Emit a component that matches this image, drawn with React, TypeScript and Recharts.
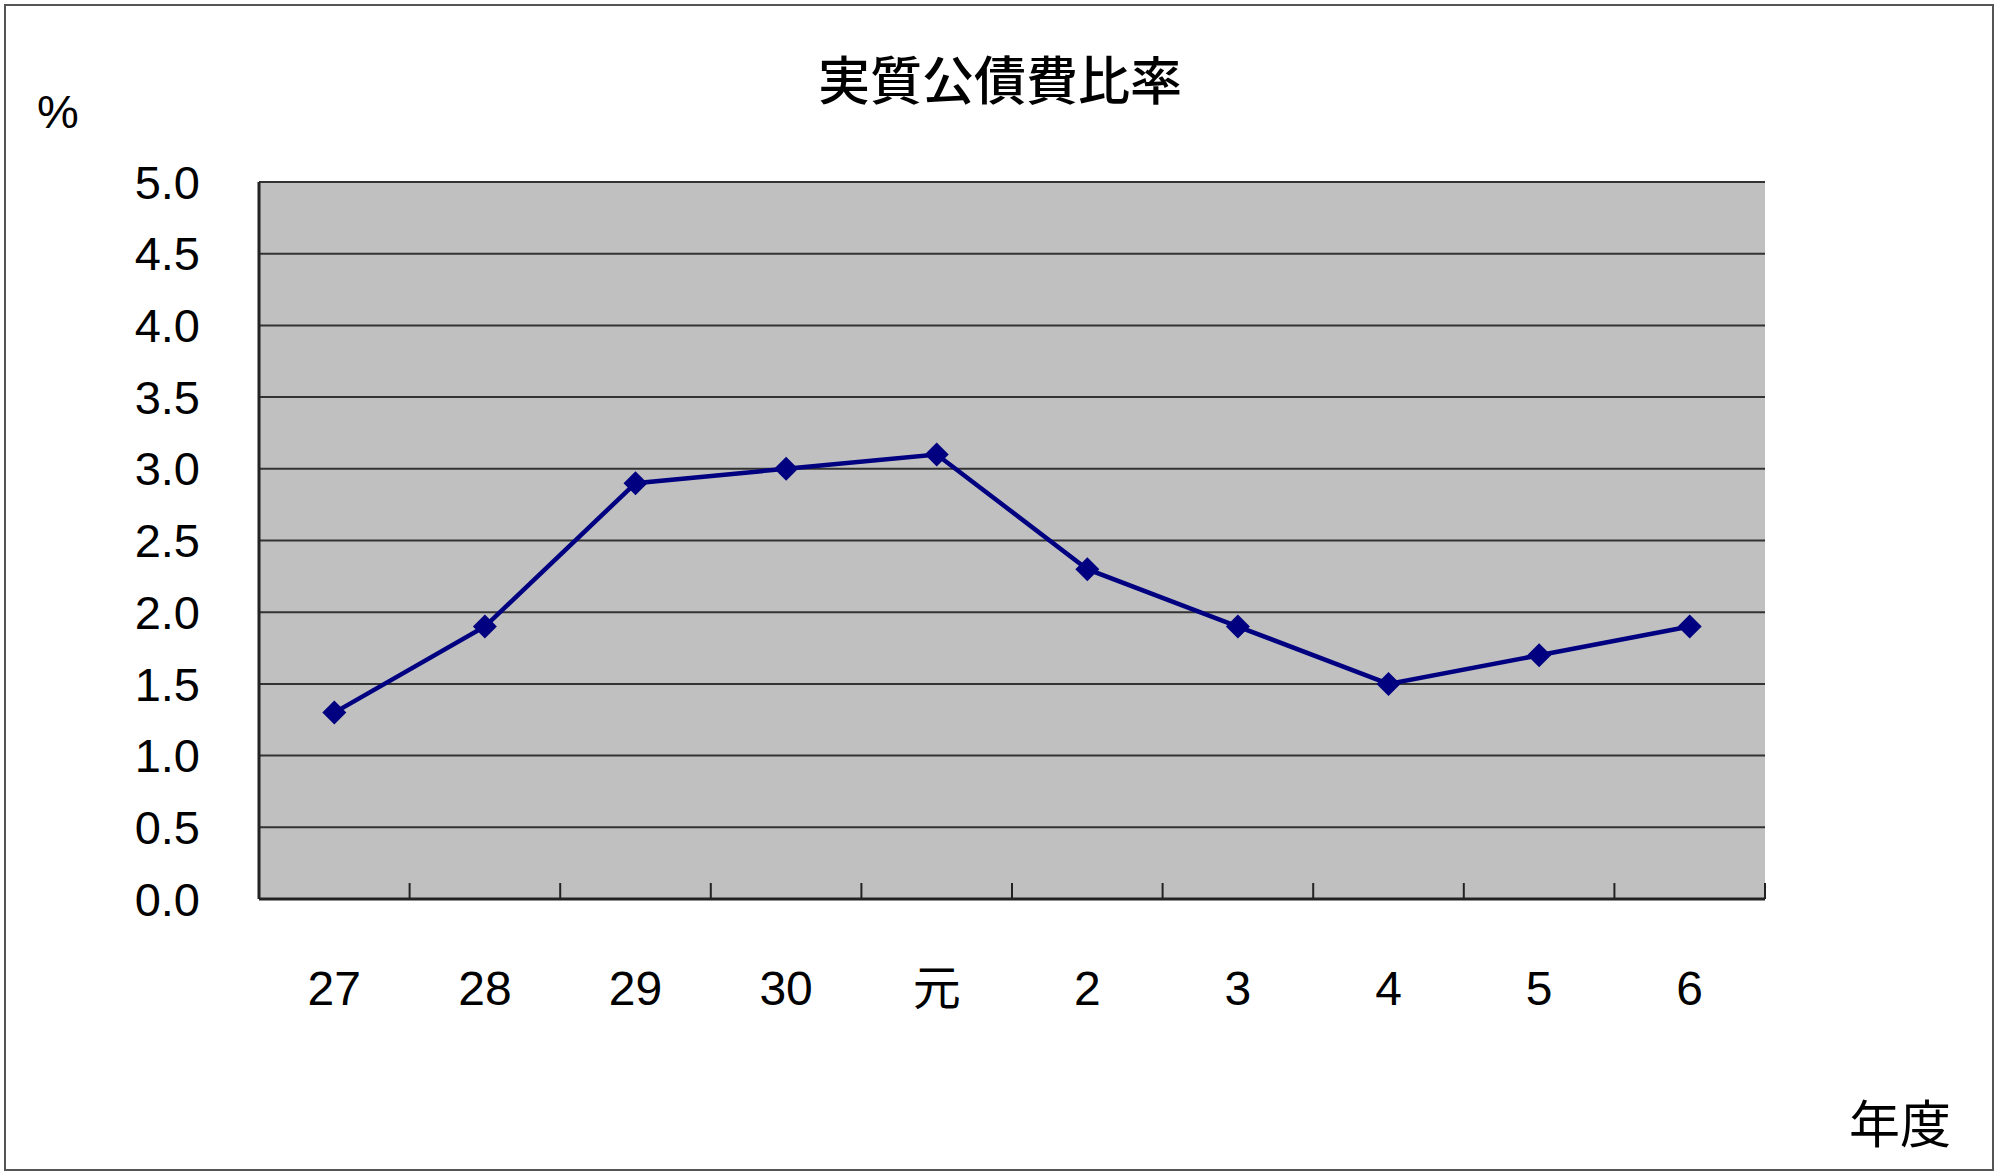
import React from "react";
import { LineChart, Line, XAxis, YAxis, CartesianGrid } from "recharts";

// fiscal years (Heisei 27..30, Reiwa 元..6)
const years = ["27", "28", "29", "30", "元", "2", "3", "4", "5", "6"];
const ratios = [1.3, 1.9, 2.9, 3.0, 3.1, 2.3, 1.9, 1.5, 1.7, 1.9];
const yTicks = [0, 0.5, 1, 1.5, 2, 2.5, 3, 3.5, 4, 4.5, 5];

const title = "実質公債費比率";
const unitLabel = "%";
const xLabel = "年度";

const W = 2000;
const H = 1176;
const PLOT = { left: 259, top: 182, right: 1765, bottom: 899 };
const Y_AXIS_W = 159;
const X_AXIS_H = 150;
const halfStep = (PLOT.right - PLOT.left) / years.length / 2;

const LATIN = '"Liberation Sans", Arial, sans-serif';
const CJK = '"Liberation Sans", "Noto Sans CJK JP", sans-serif';

const data = years.map((year, i) => ({ year, value: ratios[i] }));

function YearTick(props: any) {
  const { x, y, payload } = props;
  const bx = x + halfStep;
  return (
    <g>
      <line x1={bx} x2={bx} y1={y} y2={y - 16} stroke="#222" strokeWidth={2} />
      <text
        x={x}
        y={y + 106}
        textAnchor="middle"
        fontSize={48}
        fontFamily={CJK}
        fill="#000"
      >
        {payload.value}
      </text>
    </g>
  );
}

function Diamond(props: any) {
  const { cx, cy } = props;
  if (cx == null || cy == null) {
    return null;
  }
  const r = 12;
  return (
    <polygon
      points={`${cx},${cy - r} ${cx + r},${cy} ${cx},${cy + r} ${cx - r},${cy}`}
      fill="#000080"
    />
  );
}

export default function App() {
  return (
    <div
      style={{
        position: "absolute",
        left: 0,
        top: 0,
        width: W,
        height: H,
        background: "#fff",
        overflow: "hidden",
      }}
    >
      <div
        style={{
          position: "absolute",
          left: 4,
          top: 4,
          width: 1990,
          height: 1167,
          boxSizing: "border-box",
          border: "2px solid #555",
        }}
      />
      <div
        style={{
          position: "absolute",
          left: 0,
          top: 56,
          width: W,
          textAlign: "center",
          fontFamily: CJK,
          fontSize: 52,
          fontWeight: 500,
          lineHeight: 1,
          whiteSpace: "nowrap",
          color: "#000",
        }}
      >
        {title}
      </div>
      <div
        style={{
          position: "absolute",
          left: 37,
          top: 88,
          fontFamily: LATIN,
          fontSize: 47,
          lineHeight: 1,
          color: "#000",
        }}
      >
        {unitLabel}
      </div>
      <div
        style={{
          position: "absolute",
          left: 1849,
          top: 1100,
          fontFamily: CJK,
          fontSize: 51,
          lineHeight: 1,
          whiteSpace: "nowrap",
          color: "#000",
        }}
      >
        {xLabel}
      </div>
      <div style={{ position: "absolute", left: 0, top: 0 }}>
        <LineChart
          width={W}
          height={H}
          data={data}
          margin={{
            top: PLOT.top,
            right: W - PLOT.right,
            bottom: H - PLOT.bottom - X_AXIS_H,
            left: PLOT.left - Y_AXIS_W,
          }}
        >
          <CartesianGrid
            vertical={false}
            fill="#C0C0C0"
            fillOpacity={1}
            stroke="#333"
            strokeWidth={2}
          />
          <XAxis
            dataKey="year"
            height={X_AXIS_H}
            padding={{ left: halfStep, right: halfStep }}
            interval={0}
            tickLine={false}
            tickSize={0}
            tickMargin={0}
            axisLine={{ stroke: "#222", strokeWidth: 3 }}
            tick={<YearTick />}
          />
          <XAxis
            xAxisId="top"
            orientation="top"
            dataKey="year"
            height={0}
            tick={false}
            tickLine={false}
            axisLine={{ stroke: "#8c8c8c", strokeWidth: 4 }}
          />
          <YAxis
            width={Y_AXIS_W}
            domain={[0, 5]}
            ticks={yTicks}
            interval={0}
            tickFormatter={(v: number) => v.toFixed(1)}
            tickLine={false}
            tickSize={0}
            tickMargin={59}
            axisLine={{ stroke: "#222", strokeWidth: 3 }}
            tick={{ fill: "#000", fontSize: 47, fontFamily: LATIN }}
          />
          <YAxis
            yAxisId="right"
            orientation="right"
            width={0}
            domain={[0, 5]}
            tick={false}
            tickLine={false}
            axisLine={{ stroke: "#8c8c8c", strokeWidth: 4 }}
          />
          <Line
            type="linear"
            dataKey="value"
            stroke="#000080"
            strokeWidth={4.5}
            dot={<Diamond />}
            activeDot={false}
            isAnimationActive={false}
          />
        </LineChart>
      </div>
    </div>
  );
}
